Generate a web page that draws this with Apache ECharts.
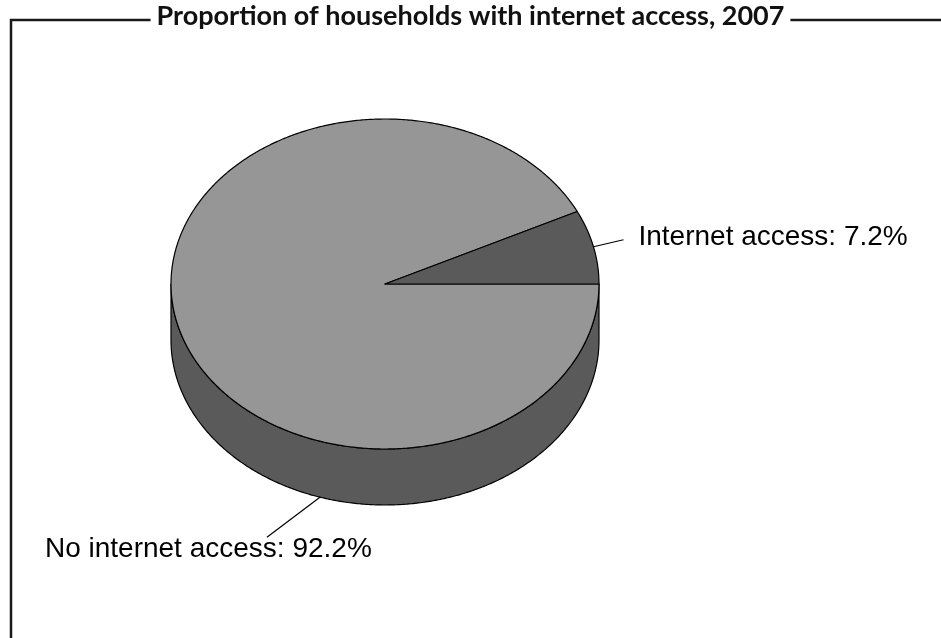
<!DOCTYPE html>
<html>
<head>
<meta charset="utf-8">
<script src="https://cdn.jsdelivr.net/npm/echarts@6/dist/echarts.min.js"></script>
<style>
html,body{margin:0;padding:0;background:#fff;}
#chart{width:941px;height:638px;}
</style>
</head>
<body>
<div id="chart"></div>
<script>
// ---- data ----
const titleText = 'Proportion of households with internet access, 2007';
const categories = ['No internet access', 'Internet access'];
const values = [92.2, 7.2];

// ---- styles / layout (not data) ----
const topColors = ['#969696', '#5a5a5a'];
const sideColors = ['#5a5a5a', '#3c3c3c'];
const pieLayout = { cx: 385, cy: 284, rx: 214, ry: 165, depth: 56, startDeg: 0 };
// label placement: anchor on pie rim (angle in deg, or null = mid-angle), on 'top' or 'bottom' rim
const labelLayout = [
  { anchorDeg: 107.7, rim: 'bottom', leader: [-53, 40], text: [-222, 12] },
  { anchorDeg: null, rim: 'top', leader: [30, -7], text: [15, -2] }
];

const total = values.reduce((a, b) => a + b, 0);
const starts = [];
let acc = pieLayout.startDeg;
values.forEach(v => { starts.push(acc); acc += v / total * 360; });

function pt(deg, dy) {
  const r = deg * Math.PI / 180;
  return [pieLayout.cx + pieLayout.rx * Math.cos(r), pieLayout.cy + pieLayout.ry * Math.sin(r) + (dy || 0)];
}
function arc(a0, a1, dy) {
  const pts = [];
  const n = Math.max(2, Math.ceil(Math.abs(a1 - a0) / 0.5));
  for (let i = 0; i <= n; i++) pts.push(pt(a0 + (a1 - a0) * i / n, dy));
  return pts;
}

function renderItem(params, api) {
  const i = params.dataIndex;
  const v = api.value(0);
  const a0 = starts[i];
  const a1 = a0 + v / total * 360;
  const children = [];
  [[0, 180], [360, 540]].forEach(([f0, f1]) => {
    const s0 = Math.max(a0, f0), s1 = Math.min(a1, f1);
    if (s1 > s0) {
      const top = arc(s0, s1, 0);
      const bot = arc(s1, s0, pieLayout.depth);
      children.push({
        type: 'polygon', z2: 1,
        shape: { points: top.concat(bot) },
        style: { fill: sideColors[i], stroke: '#000', lineWidth: 1.2, lineJoin: 'round' }
      });
    }
  });
  children.push({
    type: 'polygon', z2: 2,
    shape: { points: [[pieLayout.cx, pieLayout.cy]].concat(arc(a0, a1, 0)) },
    style: { fill: topColors[i], stroke: '#000', lineWidth: 1.2, lineJoin: 'round' }
  });
  const L = labelLayout[i];
  const ang = L.anchorDeg == null ? (a0 + a1) / 2 : L.anchorDeg;
  const p0 = pt(ang, L.rim === 'bottom' ? pieLayout.depth : 0);
  const p1 = [p0[0] + L.leader[0], p0[1] + L.leader[1]];
  children.push({
    type: 'line', z2: 3,
    shape: { x1: p0[0], y1: p0[1], x2: p1[0], y2: p1[1] },
    style: { stroke: '#000', lineWidth: 1.2 }
  });
  children.push({
    type: 'text', z2: 3,
    style: {
      x: p1[0] + L.text[0], y: p1[1] + L.text[1],
      text: categories[i] + ': ' + v + '%',
      fill: '#000', font: '28px "Liberation Sans", Arial, sans-serif',
      align: 'left', verticalAlign: 'middle'
    }
  });
  return { type: 'group', children: children };
}

const chart = echarts.init(document.getElementById('chart'), null, { renderer: 'canvas' });
chart.setOption({
  animation: false,
  backgroundColor: '#fff',
  title: {
    text: titleText,
    left: 'center',
    top: 3,
    z: 10,
    backgroundColor: '#fff',
    padding: [0, 6],
    textStyle: { fontFamily: 'Lato', fontWeight: 'bold', fontSize: 27, color: '#111' }
  },
  graphic: [
    { type: 'polyline', z: 0, shape: { points: [[941, 20], [11, 20], [11, 640]] },
      style: { stroke: '#1a1a1a', lineWidth: 2.5, fill: null } }
  ],
  series: [{
    type: 'custom',
    coordinateSystem: 'none',
    renderItem: renderItem,
    data: values.map((v, i) => ({ name: categories[i], value: [v] }))
  }]
});
</script>
</body>
</html>
